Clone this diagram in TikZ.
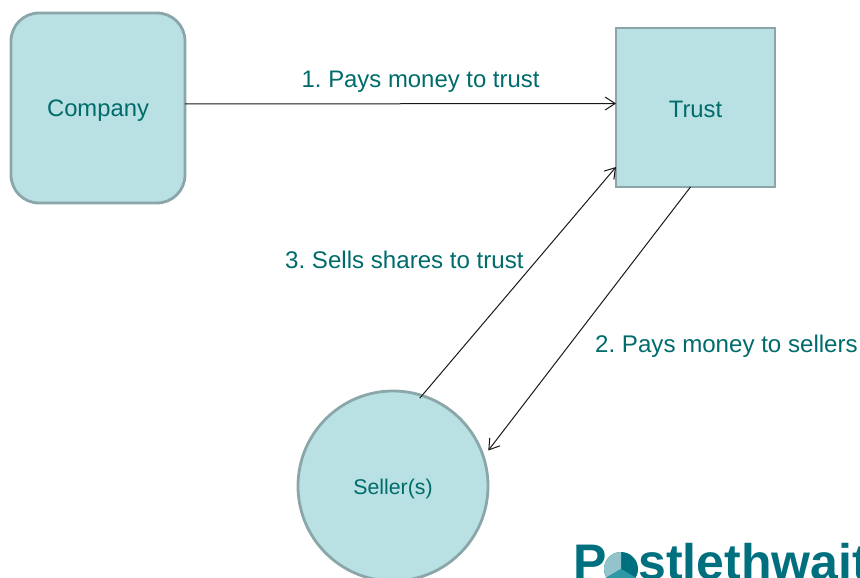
\documentclass[tikz,border=0pt]{standalone}
\usepackage{fontspec}
\setmainfont{Liberation Sans}
\frenchspacing
\usetikzlibrary{arrows.meta}
\definecolor{boxfill}{HTML}{B9E0E3}
\definecolor{boxline}{HTML}{8AA6A9}
\definecolor{txt}{HTML}{006B6B}
\definecolor{logo}{HTML}{00707F}
\definecolor{pielight}{HTML}{93C4CC}
\definecolor{piemid}{HTML}{2E98A5}
\tikzset{
  shapebox/.style={draw=boxline,fill=boxfill,line width=2.8pt,inner sep=0pt,outer sep=0pt,text=txt,font=\fontsize{23.8}{28}\selectfont},
  lbl/.style={text=txt,inner sep=0pt,font=\fontsize{24.1}{28}\selectfont},
  conn/.style={line width=1pt,draw=black!90,-{Straight Barb[length=10pt,width=13pt,line width=1pt]}},
  logotext/.style={text=logo,inner sep=0pt,anchor=base west,font=\fontsize{50}{50}\selectfont\bfseries}
}
\begin{document}
\begin{tikzpicture}[x=1pt,y=-1pt]
\useasboundingbox (0,0) rectangle (860,578);
\clip (0,0) rectangle (860,578);
\node[shapebox,rounded corners=28pt,minimum width=174pt,minimum height=190pt] (company) at (98,108) {\raisebox{-9pt}[0pt][0pt]{Company}};
\node[shapebox,minimum width=159pt,minimum height=159pt] (trust) at (695.5,107.5) {\raisebox{-9.5pt}[0pt][0pt]{Trust}};
\node[shapebox,circle,minimum size=190pt,font=\fontsize{21.3}{24}\selectfont] (seller) at (393,486) {\raisebox{-8pt}[0pt][0pt]{Seller(s)}};
\draw[conn] ([yshift=4pt]company.east) -- ([yshift=4pt]trust.west);
\draw[conn] ([xshift=-5pt]trust.south) -- ([shift={(6pt,3pt)}]seller.20.7);
\draw[conn] ([shift={(-1pt,-3pt)}]seller.73.5) -- ([yshift=-59.5pt]trust.west);
\node[lbl,anchor=base west,font=\fontsize{23.9}{28}\selectfont] (l1) at (301.5,87.5) {1. Pays money to trust};
\node[lbl,anchor=base west] (l2) at (595,352) {2. Pays money to sellers};
\node[lbl,anchor=base west] (l3) at (285,268) {3. Sells shares to trust};
\node[logotext] (logoP) at (573,579) {P};
\node[logotext] (logoRest) at (638,579) {stlethwait};
\fill[logo] (621,569) circle (17pt);
\fill[pielight] (621,569) -- (621,552) arc (90:210:17pt) -- cycle;
\fill[piemid] (621,569) -- ++(210:17pt) arc (210:330:17pt) -- cycle;
\end{tikzpicture}
\end{document}
